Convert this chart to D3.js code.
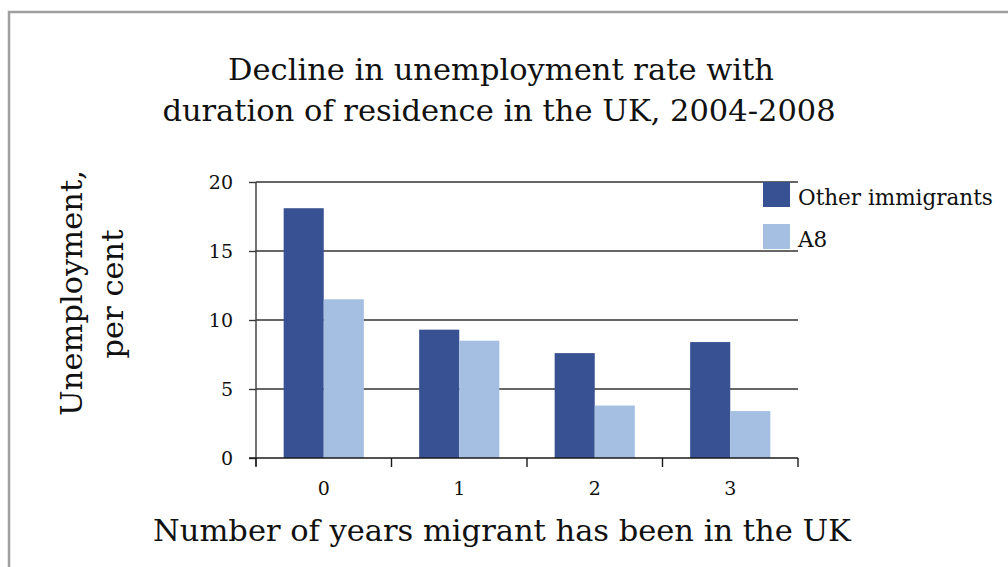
<!DOCTYPE html>
<html>
<head>
<meta charset="utf-8">
<script src="https://cdn.jsdelivr.net/npm/d3@7"></script>
<style>
  body { margin: 0; background: #fff; }
  svg { display: block; font-family: "DejaVu Serif", Georgia, serif; }
</style>
</head>
<body>
<svg id="chart" width="1008" height="567"></svg>
<script>
const years = ["0", "1", "2", "3"];
const seriesNames = ["Other immigrants", "A8"];
const otherImmigrants = [18.1, 9.3, 7.6, 8.4];
const a8 = [11.5, 8.5, 3.8, 3.4];
const yTicks = [0, 5, 10, 15, 20];
const colors = ["#375192", "#a5bfe3"];

const svg = d3.select("#chart");

// outer frame (runs off the right and bottom edge)
svg.append("rect")
  .attr("x", 9).attr("y", 12)
  .attr("width", 1020).attr("height", 600)
  .attr("fill", "none").attr("stroke", "#a0a0a0").attr("stroke-width", 2.5);

const plotLeft = 256, plotRight = 798, plotTop = 182, plotBottom = 458;

const x0 = d3.scaleBand().domain(years).range([plotLeft, plotRight]).padding(0);
const x1 = d3.scaleBand().domain(seriesNames).range([0, x0.bandwidth()]).paddingOuter(0.69).paddingInner(0);
const y = d3.scaleLinear().domain([0, 20]).range([plotBottom, plotTop]);

// gridlines
svg.append("g")
  .selectAll("line")
  .data(yTicks.filter(d => d > 0))
  .join("line")
  .attr("x1", plotLeft).attr("x2", plotRight)
  .attr("y1", d => y(d)).attr("y2", d => y(d))
  .attr("stroke", "#333").attr("stroke-width", 1.4);

// bars
const rows = years.map((yr, i) => ({ year: yr, values: [otherImmigrants[i], a8[i]] }));
svg.append("g")
  .selectAll("g")
  .data(rows)
  .join("g")
  .attr("transform", d => `translate(${x0(d.year)},0)`)
  .selectAll("rect")
  .data(d => d.values.map((v, j) => ({ name: seriesNames[j], value: v, c: colors[j] })))
  .join("rect")
  .attr("x", d => x1(d.name))
  .attr("width", x1.bandwidth())
  .attr("y", d => y(d.value))
  .attr("height", d => y(0) - y(d.value))
  .attr("fill", d => d.c);

// y axis
const yAxis = svg.append("g")
  .attr("transform", `translate(${plotLeft},0)`)
  .call(d3.axisLeft(y).tickValues(yTicks).tickSize(7).tickPadding(16));
yAxis.select(".domain").attr("d", `M0,${plotTop}V${plotBottom + 8}`);
yAxis.selectAll("line, path").attr("stroke", "#3a3a3a").attr("stroke-width", 1.4);
yAxis.selectAll("text").attr("font-size", 19).attr("fill", "#111")
  .attr("font-family", "DejaVu Serif");

// x axis (ticks on band edges)
const xAxisG = svg.append("g");
xAxisG.append("line")
  .attr("x1", plotLeft - 7).attr("x2", plotRight)
  .attr("y1", plotBottom).attr("y2", plotBottom)
  .attr("stroke", "#1a1a1a").attr("stroke-width", 1.4);
const edges = years.map(d => x0(d)).concat([plotRight]);
xAxisG.selectAll(".xt")
  .data(edges)
  .join("line")
  .attr("x1", d => d).attr("x2", d => d)
  .attr("y1", plotBottom).attr("y2", plotBottom + 9)
  .attr("stroke", "#1a1a1a").attr("stroke-width", 1.4);
xAxisG.selectAll("text")
  .data(years)
  .join("text")
  .attr("x", d => x0(d) + x0.bandwidth() / 2)
  .attr("y", plotBottom + 37)
  .attr("text-anchor", "middle")
  .attr("font-size", 19)
  .attr("fill", "#111")
  .text(d => d);

// title
const title = svg.append("text")
  .attr("text-anchor", "middle")
  .attr("font-size", 30.5)
  .attr("fill", "#111");
title.append("tspan").attr("x", 501).attr("y", 80).text("Decline in unemployment rate with");
title.append("tspan").attr("x", 499).attr("y", 121).text("duration of residence in the UK, 2004-2008");

// y label
const yl = svg.append("text")
  .attr("transform", "rotate(-90)")
  .attr("text-anchor", "middle")
  .attr("font-size", 30.5)
  .attr("fill", "#111");
yl.append("tspan").attr("x", -293).attr("y", 82).text("Unemployment,");
yl.append("tspan").attr("x", -294).attr("y", 123).text("per cent");

// x label
svg.append("text")
  .attr("x", 502).attr("y", 541)
  .attr("text-anchor", "middle")
  .attr("font-size", 30.5)
  .attr("fill", "#111")
  .text("Number of years migrant has been in the UK");

// legend
const legend = svg.append("g")
  .selectAll("g")
  .data(seriesNames)
  .join("g")
  .attr("transform", (d, i) => `translate(763,${182 + i * 42})`);
legend.append("rect")
  .attr("width", 27).attr("height", 25)
  .attr("fill", (d, i) => colors[i]);
legend.append("text")
  .attr("x", 35).attr("y", 23)
  .attr("font-size", 21.5)
  .attr("fill", "#111")
  .text(d => d);
</script>
</body>
</html>
